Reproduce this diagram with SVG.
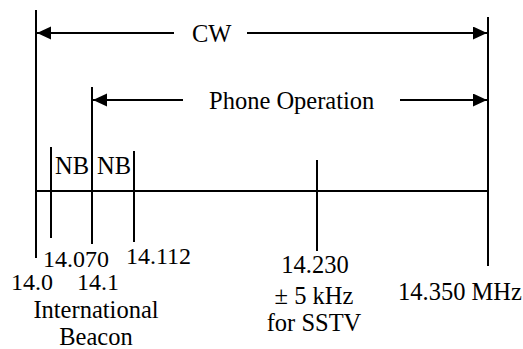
<svg xmlns="http://www.w3.org/2000/svg" width="523" height="349" viewBox="0 0 523 349">
<defs>
<marker id="ah" markerUnits="userSpaceOnUse" markerWidth="15" markerHeight="14" refX="14" refY="6.5" orient="auto">
<path d="M0,0 L14,6.5 L0,13 z" fill="#000"/>
</marker>
</defs>
<rect width="523" height="349" fill="#fff"/>
<g id="axis" stroke="#000" stroke-width="2" fill="none">
<line x1="36" y1="10" x2="36" y2="258"/>
<line x1="488" y1="17" x2="488" y2="266"/>
<line x1="36" y1="191" x2="488" y2="191"/>
<line x1="92" y1="87" x2="92" y2="244"/>
<line x1="51" y1="147" x2="51" y2="238"/>
<line x1="134" y1="151" x2="134" y2="242"/>
<line x1="317" y1="160" x2="317" y2="251"/>
</g>
<g id="connectors" stroke="#000" stroke-width="2" fill="none" marker-end="url(#ah)">
<line x1="174" y1="33" x2="37" y2="33"/>
<line x1="247" y1="33" x2="487" y2="33"/>
<line x1="183" y1="100" x2="93" y2="100"/>
<line x1="400" y1="100" x2="487" y2="100"/>
</g>
<g id="labels">
<text x="192" y="42" style="font-family:'Liberation Serif';font-size:24.5px">CW</text>
<text x="209" y="109" style="font-family:'Liberation Serif';font-size:24.5px">Phone Operation</text>
<text x="55" y="174" style="font-family:'Liberation Serif';font-size:24.5px">NB</text>
<text x="97" y="174" style="font-family:'Liberation Serif';font-size:24.5px">NB</text>
<text x="43" y="267" style="font-family:'Liberation Serif';font-size:24px">14.070</text>
<text x="126" y="264" style="font-family:'Liberation Serif';font-size:24px">14.112</text>
<text x="11" y="290" style="font-family:'Liberation Serif';font-size:24px">14.0</text>
<text x="77" y="290" style="font-family:'Liberation Serif';font-size:24px">14.1</text>
<text x="96" y="318" text-anchor="middle" style="font-family:'Liberation Serif';font-size:24.5px">International</text>
<text x="96" y="345" text-anchor="middle" style="font-family:'Liberation Serif';font-size:24.5px">Beacon</text>
<text x="315" y="273" text-anchor="middle" style="font-family:'Liberation Serif';font-size:24.5px">14.230</text>
<text x="314" y="304" text-anchor="middle" style="font-family:'Liberation Serif';font-size:24.5px">&#177; 5 kHz</text>
<text x="314" y="331" text-anchor="middle" style="font-family:'Liberation Serif';font-size:24.5px">for SSTV</text>
<text x="398" y="300" style="font-family:'Liberation Serif';font-size:24.5px">14.350 MHz</text>
</g>
</svg>
